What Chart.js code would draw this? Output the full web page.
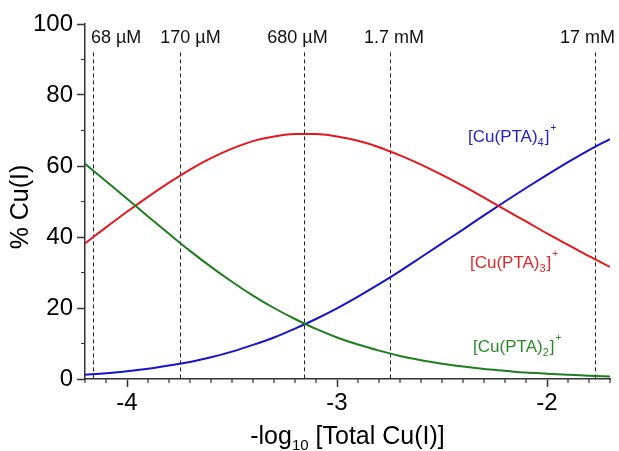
<!DOCTYPE html>
<html lang="en">
<head>
<meta charset="UTF-8">
<title>Cu(I) speciation</title>
<script src="https://cdn.jsdelivr.net/npm/chart.js"></script>
<style>
  html, body { margin: 0; padding: 0; background: #fff; }
  #wrap { width: 619px; height: 451px; }
</style>
</head>
<body>
<div id="wrap"><canvas id="chart" width="619" height="451"></canvas></div>
<script>
// x = log10 of total Cu(I), y = % of Cu(I) in each complex
const logConc = [-4.2, -4.1, -4.0, -3.9, -3.8, -3.7, -3.6, -3.5, -3.4, -3.3, -3.2, -3.1, -3.0,
                 -2.9, -2.8, -2.7, -2.6, -2.5, -2.4, -2.3, -2.2, -2.1, -2.0, -1.9, -1.8, -1.7];
const cuPTA2 = [60.6, 55.7, 50.8, 45.8, 40.9, 36.1, 31.6, 27.4, 23.5, 20.0, 16.9, 14.1, 11.7,
                9.7, 8.0, 6.5, 5.3, 4.3, 3.5, 2.8, 2.3, 1.8, 1.5, 1.2, 0.9, 0.7];
const cuPTA3 = [38.2, 42.7, 47.1, 51.3, 55.3, 59.0, 62.2, 64.9, 67.0, 68.3, 69.0, 69.0, 68.3,
                67.1, 65.3, 63.0, 60.4, 57.5, 54.4, 51.1, 47.7, 44.4, 41.0, 37.8, 34.6, 31.6];
const cuPTA4 = [1.2, 1.6, 2.2, 2.9, 3.8, 4.8, 6.1, 7.7, 9.6, 11.7, 14.2, 16.9, 19.9,
                23.2, 26.7, 30.4, 34.3, 38.2, 42.1, 46.1, 50.0, 53.8, 57.5, 61.1, 64.5, 67.6];

const xTicks = [-4, -3, -2];
const yTicks = [0, 20, 40, 60, 80, 100];

// dashed concentration markers
const concLines = [-4.163, -3.75, -3.157, -2.75, -1.771];
const concLabels = ['68 \u00b5M', '170 \u00b5M', '680 \u00b5M', '1.7 mM', '17 mM'];
const concLabelX = [-4.052, -3.698, -3.188, -2.729, -1.807];
const concTop = 92;

// species labels: [ligand count, x, y] in data units
const speciesNames = ['2', '3', '4'];
const speciesLabelX = [-2.352, -2.367, -2.376];
const speciesLabelY = [7.7, 31.3, 66.8];

const FONT = '"Liberation Sans", Arial, Helvetica, sans-serif';
const colors = { green: '#1e7d1e', red: '#e4181e', blue: '#1414c8' };
const labelColors = ['#2a8a2a', '#e02828', '#2222cc'];
const axisColor = '#333';

function pts(ys) {
    return logConc.map((x, i) => ({ x: x, y: ys[i] }));
}

function drawChem(ctx, x, y, n, color) {
    ctx.save();
    ctx.fillStyle = color;
    ctx.textAlign = 'left';
    ctx.textBaseline = 'alphabetic';
    ctx.font = '17px ' + FONT;
    ctx.fillText('[Cu(PTA)', x, y);
    x += ctx.measureText('[Cu(PTA)').width;
    ctx.font = '11px ' + FONT;
    ctx.fillText(n, x, y + 4);
    x += ctx.measureText(n).width + 1;
    ctx.font = '17px ' + FONT;
    ctx.fillText(']', x, y);
    x += ctx.measureText(']').width + 1;
    ctx.font = '10px ' + FONT;
    ctx.fillText('+', x, y - 11);
    ctx.restore();
}

const extras = {
    id: 'extras',
    beforeDatasetsDraw(chart) {
        const ctx = chart.ctx;
        const xs = chart.scales.x, ys = chart.scales.y;
        ctx.save();
        ctx.strokeStyle = '#222';
        ctx.lineWidth = 1;
        ctx.setLineDash([4, 3]);
        concLines.forEach(v => {
            const px = Math.round(xs.getPixelForValue(v)) + 0.5;
            ctx.beginPath();
            ctx.moveTo(px, ys.getPixelForValue(concTop));
            ctx.lineTo(px, ys.getPixelForValue(0));
            ctx.stroke();
        });
        ctx.restore();
    },
    afterDraw(chart) {
        const ctx = chart.ctx;
        const xs = chart.scales.x, ys = chart.scales.y;
        const area = chart.chartArea;
        ctx.save();

        // minor ticks
        ctx.strokeStyle = axisColor;
        ctx.lineWidth = 1.2;
        ctx.beginPath();
        for (let i = 0; i <= 25; i++) {
            const v = -4.2 + i * 0.1;
            if (Math.abs(v - Math.round(v)) < 1e-6) continue;
            const px = xs.getPixelForValue(v);
            ctx.moveTo(px, area.bottom);
            ctx.lineTo(px, area.bottom + 4);
        }
        for (let v = 10; v < 100; v += 20) {
            const py = ys.getPixelForValue(v);
            ctx.moveTo(area.left, py);
            ctx.lineTo(area.left - 4, py);
        }
        ctx.stroke();

        // concentration labels
        ctx.fillStyle = '#111';
        ctx.font = '18px ' + FONT;
        ctx.textAlign = 'center';
        ctx.textBaseline = 'alphabetic';
        concLabels.forEach((t, i) => {
            ctx.fillText(t, xs.getPixelForValue(concLabelX[i]), 43);
        });

        // species labels
        speciesNames.forEach((n, i) => {
            drawChem(ctx, xs.getPixelForValue(speciesLabelX[i]), ys.getPixelForValue(speciesLabelY[i]), n, labelColors[i]);
        });

        // x title with subscript
        ctx.fillStyle = '#000';
        ctx.textAlign = 'left';
        const big = '25px ' + FONT, small = '15px ' + FONT;
        ctx.font = big;
        const w1 = ctx.measureText('-log').width;
        const w3 = ctx.measureText(' [Total Cu(I)]').width;
        ctx.font = small;
        const w2 = ctx.measureText('10').width;
        let tx = (area.left + area.right) / 2 - (w1 + w2 + w3) / 2;
        const ty = 444;
        ctx.font = big;
        ctx.fillText('-log', tx, ty);
        tx += w1;
        ctx.font = small;
        ctx.fillText('10', tx, ty + 6);
        tx += w2;
        ctx.font = big;
        ctx.fillText(' [Total Cu(I)]', tx, ty);

        // y title
        ctx.translate(28, 207);
        ctx.rotate(-Math.PI / 2);
        ctx.textAlign = 'center';
        ctx.fillText('% Cu(I)', 0, 0);
        ctx.restore();
    }
};

new Chart(document.getElementById('chart'), {
    type: 'line',
    data: {
        datasets: [
            { label: '[Cu(PTA)2]+', data: pts(cuPTA2), borderColor: colors.green },
            { label: '[Cu(PTA)3]+', data: pts(cuPTA3), borderColor: colors.red },
            { label: '[Cu(PTA)4]+', data: pts(cuPTA4), borderColor: colors.blue }
        ]
    },
    options: {
        responsive: false,
        animation: false,
        layout: { padding: { top: 24, right: 9, left: 0, bottom: 0 } },
        plugins: { legend: { display: false }, tooltip: { enabled: false } },
        elements: {
            point: { radius: 0 },
            line: { borderWidth: 2, cubicInterpolationMode: 'monotone', fill: false }
        },
        scales: {
            x: {
                type: 'linear',
                min: -4.2,
                max: -1.7,
                afterBuildTicks: s => { s.ticks = xTicks.map(v => ({ value: v })); },
                afterFit: s => { s.height = 72; },
                ticks: {
                    font: { family: FONT, size: 24 },
                    color: '#000',
                    padding: 2,
                    maxRotation: 0,
                    callback: v => String(v)
                },
                grid: { drawOnChartArea: false, drawTicks: true, tickLength: 8, tickColor: axisColor, tickWidth: 1.5 },
                border: { color: axisColor, width: 1.5 }
            },
            y: {
                min: 0,
                max: 100,
                afterBuildTicks: s => { s.ticks = yTicks.map(v => ({ value: v })); },
                afterFit: s => { s.width = 85; },
                ticks: {
                    font: { family: FONT, size: 24 },
                    color: '#000',
                    padding: 4,
                    callback: v => String(v)
                },
                grid: { drawOnChartArea: false, drawTicks: true, tickLength: 8, tickColor: axisColor, tickWidth: 1.5 },
                border: { color: axisColor, width: 1.5 }
            }
        }
    },
    plugins: [extras]
});
</script>
</body>
</html>
